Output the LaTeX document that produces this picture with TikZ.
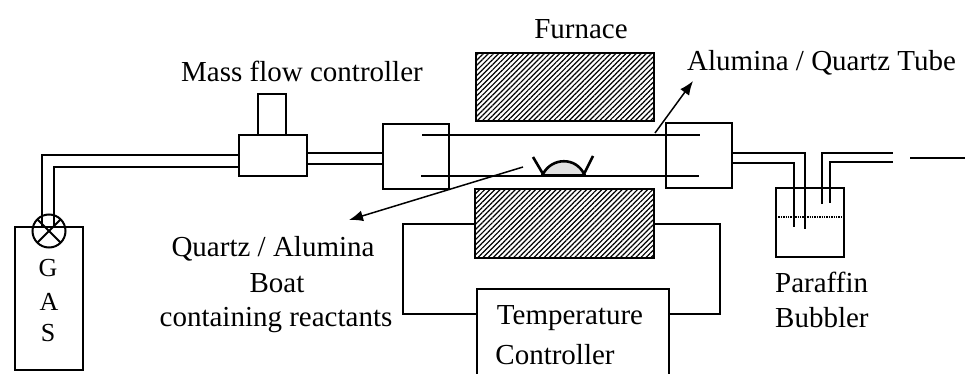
\documentclass[tikz,border=0pt]{standalone}
\usepackage{fontspec}
\setmainfont{Liberation Serif}
\usetikzlibrary{patterns,patterns.meta,arrows.meta}
\tikzset{
 box/.style={draw,line width=2pt,inner sep=0,outer sep=0,anchor=north west},
 line/.style={line width=2pt},
 thick line/.style={line width=2.6pt},
 hatch/.style={preaction={fill=white},pattern={Lines[angle=45,distance=3.6pt,line width=1.2pt]}},
 label/.style={inner sep=0,font=\fontsize{29}{32}\selectfont},
 gaslabel/.style={inner sep=0,font=\fontsize{26}{30}\selectfont},
 pointer/.style={line width=1.5pt,-{Latex[length=14pt,width=11pt]}}
}
\begin{document}
\begin{tikzpicture}[x=1pt,y=-1pt]
\useasboundingbox (0,0) rectangle (965,374);
% furnace
\node[box,hatch,minimum width=178pt,minimum height=68pt] (ftop) at (476,53) {};
\node[box,hatch,minimum width=179pt,minimum height=69pt] (fbot) at (475,189) {};
% boxes
\node[box,minimum width=66pt,minimum height=65pt] (lc) at (383,124) {};
\node[box,minimum width=66pt,minimum height=65pt] (rc) at (666,123) {};
\node[box,minimum width=68pt,minimum height=41pt] (mfc) at (239,135) {};
\node[box,minimum width=28pt,minimum height=41pt] (mfct) at (258,94) {};
\node[box,minimum width=68pt,minimum height=143pt] (gas) at (15,227) {};
\node[box,minimum width=68pt,minimum height=69pt] (bub) at (776,188) {};
\draw[line] (669,374) -- (669,289) -- (477,289) -- (477,374);
\coordinate (tcL) at (477,314); \coordinate (tcR) at (669,314);
% tube
\draw[line] (422,135) -- (700,135);
\draw[line] (421,176) -- (699,176);
% pipes
\draw[line] (mfc.west |- 0,155) -- (42,155) -- (42,228);
\draw[line] (mfc.west |- 0,167) -- (54,167) -- (54,228);
\draw[line] (mfc.east |- 0,153) -- (lc.west |- 0,153);
\draw[line] (mfc.east |- 0,164) -- (lc.west |- 0,164);
\draw[thick line] (rc.east |- 0,153) -- (805,153) -- (805,229);
\draw[thick line] (rc.east |- 0,163) -- (794,163) -- (794,227);
\draw[thick line] (822,204) -- (822,153) -- (893,153);
\draw[thick line] (830,203) -- (830,162) -- (893,162);
\coordinate (outA) at (910,158); \coordinate (outB) at (965,158);
\draw[line] (outA) -- (outB);
\draw[densely dotted,line width=1.4pt] (bub.west |- 0,217) -- (bub.east |- 0,217);
% valve
\node[draw,circle,line width=2pt,outer sep=0,minimum size=33pt,inner sep=0] (valve) at (49,231) {};
\draw[line] (valve.north west) -- (valve.south east);
\draw[line] (valve.north east) -- (valve.south west);
% wires
\draw[line] (fbot.west) -- (403,0 |- fbot.west) -- (403,314) -- (tcL);
\draw[line] (fbot.east) -- (720,0 |- fbot.east) -- (720,314) -- (tcR);
% boat
\draw[thick line] (533,157) -- (543,174);
\draw[thick line] (593,156) -- (584,174);
\draw[line width=2.6pt,fill=black!12] (543,174) .. controls (552,157) and (576,157) .. (584,174);
\draw[line width=3pt] (541,175) -- (586,175);
% labels
\node[label] at (581,29) {Furnace};
\node[label] at (302,71) {Mass flow controller};
\node[label,anchor=west] (alu) at (687,63) {Alumina / Quartz Tube};
\node[label] (q1) at (273,249) {Quartz / Alumina};
\node[label] (q2) at (277,283) {Boat};
\node[label] (q3) at (276,320) {containing reactants};
\node[label] at (570,318) {Temperature};
\node[label] at (555,355) {Controller};
\node[label,anchor=west] at (775,282) {Paraffin};
\node[label,anchor=west] at (775,318) {Bubbler};
\node[gaslabel] at (48,268) {G};
\node[gaslabel] at (49,302) {A};
\node[gaslabel] at (48,333) {S};
% arrows
\coordinate (a1s) at (655,133); \coordinate (a1e) at (693,81);
\draw[pointer] (a1s) -- (a1e);
\coordinate (a2s) at (523,167); \coordinate (a2e) at (349,220);
\draw[pointer] (a2s) -- (a2e);
\end{tikzpicture}
\end{document}
